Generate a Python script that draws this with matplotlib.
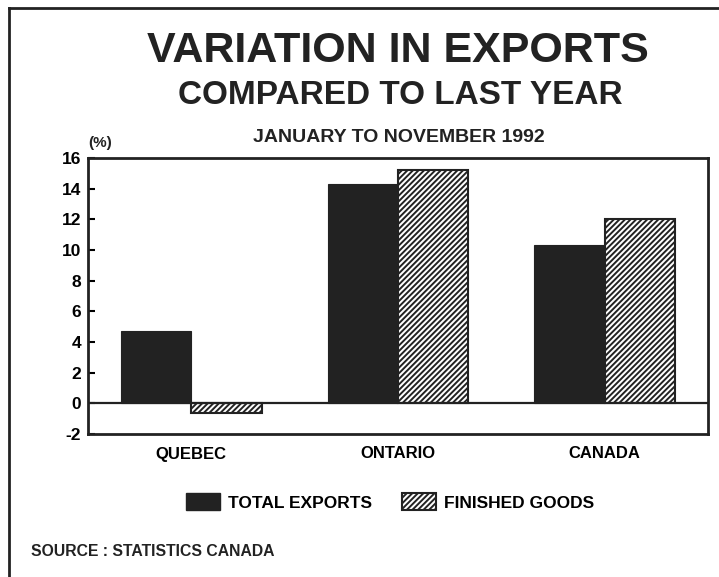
import matplotlib
matplotlib.use("Agg")
import matplotlib.pyplot as plt
import numpy as np
from matplotlib.patches import Patch
from matplotlib.lines import Line2D

regiones = ["QUEBEC", "ONTARIO", "CANADA"]
total_exports = [4.7, 14.3, 10.3]
finished_goods = [-0.6, 15.2, 12.0]
yticks = [-2, 0, 2, 4, 6, 8, 10, 12, 14, 16]

plt.rcParams["font.family"] = ["Liberation Sans", "DejaVu Sans"]
plt.rcParams["hatch.linewidth"] = 1.4
plt.rcParams["axes.unicode_minus"] = False

fig = plt.figure(figsize=(7.19, 5.77), dpi=100)
ax = fig.add_axes([88 / 719, 1 - 434 / 577, 620 / 719, 276 / 577])

x = np.arange(len(regiones))
ancho = 0.34
negro = "#222222"
rayado = "//////"
ax.bar(x - ancho / 2, total_exports, ancho, color=negro, edgecolor=negro, linewidth=0.8)
ax.bar(x + ancho / 2, finished_goods, ancho, color="white", edgecolor=negro,
       hatch=rayado, linewidth=1.5)
ax.axhline(0, color=negro, linewidth=1.6)

ax.set_xlim(-0.5, 2.5)
ax.set_ylim(-2, 16)
ax.set_yticks(yticks)
ax.set_xticks(x)
ax.set_xticklabels(regiones, fontsize=12, fontweight="bold")
ax.tick_params(axis="y", direction="in", length=5, width=1.5, labelsize=12.5, pad=5)
ax.tick_params(axis="x", length=0, pad=9)
for lbl in ax.get_yticklabels():
    lbl.set_fontweight("bold")
for sp in ax.spines.values():
    sp.set_linewidth(2)
    sp.set_color(negro)

fig.text(398 / 719, 1 - 51 / 577, "VARIATION IN EXPORTS", ha="center", va="center",
         fontsize=31, fontweight="bold", color=negro)
fig.text(400 / 719, 1 - 96 / 577, "COMPARED TO LAST YEAR", ha="center", va="center",
         fontsize=24, fontweight="bold", color=negro)
fig.text(399 / 719, 1 - 137 / 577, "JANUARY TO NOVEMBER 1992", ha="center", va="center",
         fontsize=14, fontweight="bold", color=negro)
fig.text(100 / 719, 1 - 143 / 577, "(%)", ha="center", va="center",
         fontsize=11, fontweight="bold", color=negro)
fig.text(31 / 719, 1 - 551 / 577, "SOURCE : STATISTICS CANADA", ha="left", va="center",
         fontsize=11.3, fontweight="bold", color=negro)

manijas = [Patch(facecolor=negro, edgecolor=negro),
           Patch(facecolor="white", edgecolor=negro, hatch=rayado, linewidth=1.5)]
leg = fig.legend(manijas, ["TOTAL EXPORTS", "FINISHED GOODS"], loc="center",
                 bbox_to_anchor=(390 / 719, 1 - 502 / 577), ncol=2, frameon=False,
                 handlelength=2.0, handleheight=1.1, handletextpad=0.45, columnspacing=1.7,
                 prop={"weight": "bold", "size": 12.5})

# marco de la figura (izquierda y arriba)
fig.add_artist(Line2D([9 / 719, 9 / 719], [0, 1 - 8 / 577], color=negro, linewidth=2,
                      transform=fig.transFigure))
fig.add_artist(Line2D([9 / 719, 1], [1 - 8 / 577, 1 - 8 / 577], color=negro, linewidth=2,
                      transform=fig.transFigure))

plt.savefig("out.png", dpi=100)
